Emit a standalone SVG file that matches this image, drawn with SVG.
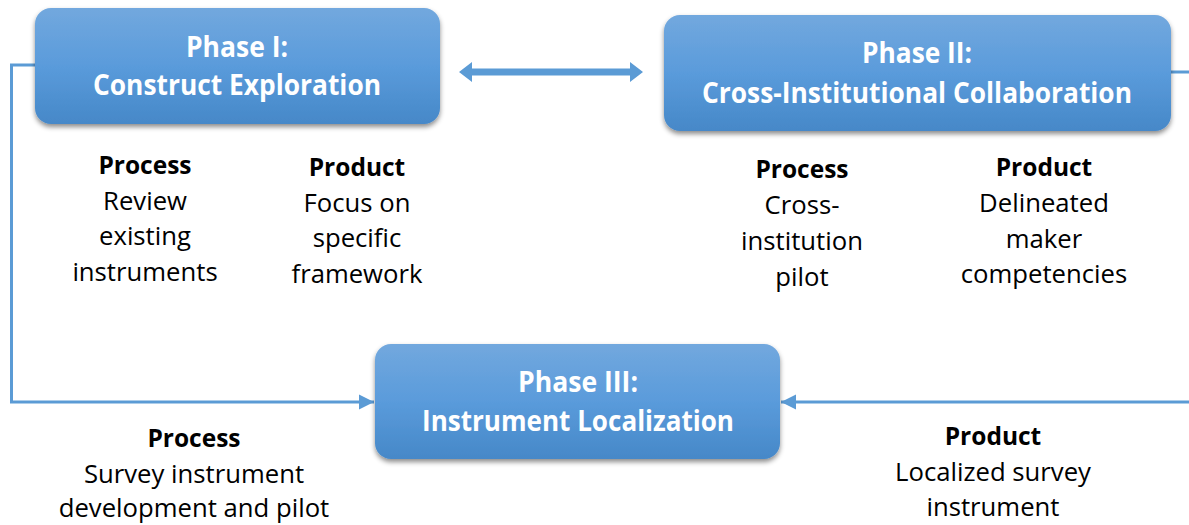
<svg xmlns="http://www.w3.org/2000/svg" width="1189" height="525" viewBox="0 0 1189 525">
<defs>
<linearGradient id="boxGrad" x1="0" y1="0" x2="0" y2="1">
<stop offset="0" stop-color="#72a8de"/>
<stop offset="0.5" stop-color="#5a9bdb"/>
<stop offset="1" stop-color="#4688c8"/>
</linearGradient>
<filter id="shadow" x="-10%" y="-20%" width="120%" height="150%">
<feDropShadow dx="0" dy="3" stdDeviation="2.5" flood-color="#000" flood-opacity="0.45"/>
</filter>
<marker id="arrow" markerUnits="userSpaceOnUse" markerWidth="16" markerHeight="16" refX="15" refY="8" orient="auto">
<path d="M0,0.5 L15,8 L0,15.5 Z" fill="#5b9bd5"/>
</marker>
</defs>
<style>
.box{fill:url(#boxGrad);filter:url(#shadow);}
.title{font-family:"Open Sans","Liberation Sans",sans-serif;font-weight:bold;font-size:28.5px;fill:#ffffff;text-anchor:middle;}
.head{font-family:"Open Sans","Liberation Sans",sans-serif;font-weight:bold;font-size:24.5px;fill:#000000;text-anchor:middle;}
.body{font-family:"Open Sans","Liberation Sans",sans-serif;font-size:25.7px;fill:#000000;text-anchor:middle;}
.conn{fill:none;stroke:#5b9bd5;stroke-width:3;}
</style>
<g id="connectors">
<path class="conn" d="M36,65 H11.5 V402 H374" marker-end="url(#arrow)"/>
<path class="conn" d="M1170,72 H1195 V402 H781" marker-end="url(#arrow)"/>
<polygon fill="#5b9bd5" points="459,72 472,62 472,68.5 630,68.5 630,62 643,72 630,82 630,75.5 472,75.5 472,82"/>
</g>
<g id="phase1">
<rect class="box" x="35" y="8" width="405" height="116" rx="16" ry="16"/>
<text class="title" x="237" y="57" textLength="102" lengthAdjust="spacingAndGlyphs">Phase I:</text>
<text class="title" x="237" y="95" textLength="288" lengthAdjust="spacingAndGlyphs">Construct Exploration</text>
</g>
<g id="phase2">
<rect class="box" x="664" y="15" width="507" height="116" rx="16" ry="16"/>
<text class="title" x="917" y="63" textLength="110" lengthAdjust="spacingAndGlyphs">Phase II:</text>
<text class="title" x="917" y="103" textLength="430" lengthAdjust="spacingAndGlyphs">Cross-Institutional Collaboration</text>
</g>
<g id="phase3">
<rect class="box" x="375" y="344" width="405" height="115" rx="16" ry="16"/>
<text class="title" x="578" y="392" textLength="120" lengthAdjust="spacingAndGlyphs">Phase III:</text>
<text class="title" x="578" y="431" textLength="312" lengthAdjust="spacingAndGlyphs">Instrument Localization</text>
</g>
<g id="phase1-process">
<text class="head" x="145" y="174">Process</text>
<text class="body" x="145" y="209.5">Review</text>
<text class="body" x="145" y="245">existing</text>
<text class="body" x="145" y="280.5">instruments</text>
</g>
<g id="phase1-product">
<text class="head" x="357" y="176">Product</text>
<text class="body" x="357" y="211.5">Focus on</text>
<text class="body" x="357" y="247">specific</text>
<text class="body" x="357" y="282.5">framework</text>
</g>
<g id="phase2-process">
<text class="head" x="802" y="178">Process</text>
<text class="body" x="802" y="214">Cross-</text>
<text class="body" x="802" y="250">institution</text>
<text class="body" x="802" y="286">pilot</text>
</g>
<g id="phase2-product">
<text class="head" x="1044" y="176">Product</text>
<text class="body" x="1044" y="212">Delineated</text>
<text class="body" x="1044" y="247.5">maker</text>
<text class="body" x="1044" y="283">competencies</text>
</g>
<g id="phase3-process">
<text class="head" x="194" y="447">Process</text>
<text class="body" x="194" y="482.5">Survey instrument</text>
<text class="body" x="194" y="517">development and pilot</text>
</g>
<g id="phase3-product">
<text class="head" x="993" y="445">Product</text>
<text class="body" x="993" y="481">Localized survey</text>
<text class="body" x="993" y="516">instrument</text>
</g>
</svg>
